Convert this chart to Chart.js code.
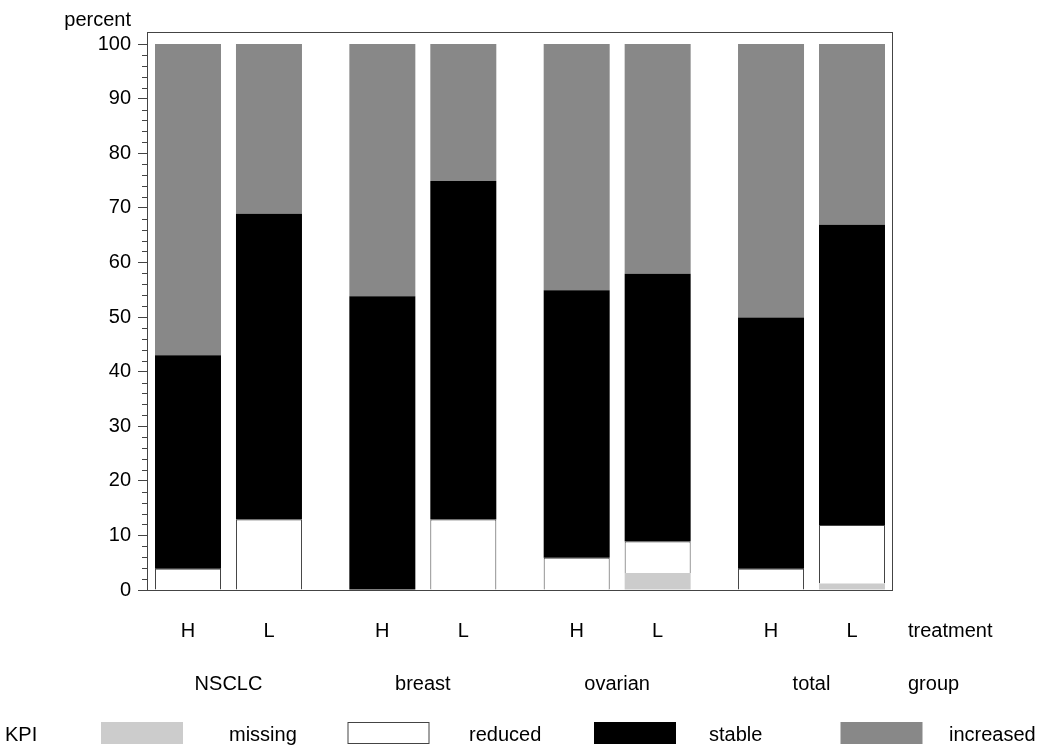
<!DOCTYPE html>
<html><head><meta charset="utf-8">
<script src="https://cdn.jsdelivr.net/npm/chart.js@4/dist/chart.umd.min.js"></script>
<style>html,body{margin:0;padding:0;background:#fff}#wrap{width:1039px;height:747px}</style>
</head><body><div id="wrap"><canvas id="c" width="1039" height="747"></canvas></div>
<script>
// ---- data ----
const groups = ['NSCLC', 'breast', 'ovarian', 'total'];
const treatments = ['H', 'L'];
const kpis = ['missing', 'reduced', 'stable', 'increased'];
// bar order: NSCLC H, NSCLC L, breast H, breast L, ovarian H, ovarian L, total H, total L
const missing   = [0,    0,    0,    0,    0,    3.1,  0,    1.2];
const reduced   = [3.9,  12.9, 0,    12.9, 5.9,  5.8,  3.9,  10.7];
const stable    = [39.1, 56,   53.8, 62,   49,   49,   46,   55];
const increased = [57,   31.1, 46.2, 25.1, 45.1, 42.1, 50.1, 33.1];
const yTickValues = [0, 10, 20, 30, 40, 50, 60, 70, 80, 90, 100];
const yTitle = 'percent';
const xTitle = 'treatment';
const groupTitle = 'group';
const legendTitle = 'KPI';

// ---- derived ----
const kpiValues = [missing, reduced, stable, increased];
const kpiColors = ['#cccccc', '#ffffff', '#000000', '#888888'];
const kpiBorders = [0, 1, 0, 0];
const GROUP_STEP = 2.4;
const barPos = [], barTreat = [];
groups.forEach((g, gi) => treatments.forEach((t, ti) => { barPos.push(gi * GROUP_STEP + ti); barTreat.push(t); }));
const groupPos = groups.map((g, gi) => gi * GROUP_STEP + 0.5);

Chart.defaults.font.family = '"Liberation Sans", Arial, sans-serif';
Chart.defaults.font.size = 20;
Chart.defaults.color = '#000';

const decor = {
  id: 'decor',
  afterDraw(chart) {
    const { ctx, chartArea: a, scales: { y } } = chart;
    ctx.save();
    ctx.strokeStyle = '#444';
    ctx.lineWidth = 1;
    ctx.strokeRect(Math.round(a.left) - 0.5, Math.round(a.top) + 0.5, Math.round(a.right - a.left) + 1, Math.round(a.bottom - a.top));
    // minor ticks
    ctx.beginPath();
    for (let v = 0; v <= 100; v += 2) {
      if (v % 10 === 0) continue;
      const py = Math.round(y.getPixelForValue(v)) + 0.5;
      ctx.moveTo(a.left - 6, py); ctx.lineTo(a.left, py);
    }
    ctx.stroke();
    // texts
    ctx.fillStyle = '#000';
    ctx.font = '20px "Liberation Sans", Arial, sans-serif';
    ctx.textBaseline = 'middle';
    ctx.textAlign = 'right';
    ctx.fillText(yTitle, 131, 20);
    ctx.textAlign = 'left';
    ctx.fillText(xTitle, a.right + 16, 631);
    ctx.fillText(groupTitle, a.right + 16, 684);
    // legend
    ctx.fillText(legendTitle, 5, 735);
    chart.data.datasets.forEach((ds, i) => {
      const bx = 101 + i * 246.5, by = 722;
      ctx.fillStyle = ds.backgroundColor;
      ctx.fillRect(bx, by, 82, 22);
      if (kpiBorders[i]) {
        ctx.strokeStyle = ds.borderColor;
        ctx.strokeRect(bx + 0.5, by + 0.5, 81, 21);
      }
      ctx.fillStyle = '#000';
      ctx.fillText(ds.label, 229 + i * 240, 735);
    });
    ctx.restore();
  }
};

new Chart(document.getElementById('c'), {
  type: 'bar',
  data: {
    datasets: kpis.map((k, i) => ({
      label: k,
      data: kpiValues[i].map((v, j) => ({ x: barPos[j], y: v })),
      backgroundColor: kpiColors[i],
      borderColor: '#444',
      borderWidth: c => (c.raw && c.raw.y > 0) ? kpiBorders[i] : 0,
      barPercentage: 0.815,
      categoryPercentage: 1
    }))
  },
  options: {
    responsive: false,
    animation: false,
    devicePixelRatio: 1,
    layout: { padding: { top: 32, right: 147, bottom: 57, left: 0 } },
    plugins: { legend: { display: false }, tooltip: { enabled: false } },
    scales: {
      x: {
        type: 'linear', min: -0.494, max: 8.694, stacked: true, weight: 1, position: 'bottom', offset: false,
        afterBuildTicks: s => { s.ticks = barPos.map(v => ({ value: v })); },
        afterFit: s => { s.height = 50; },
        grid: { display: false, drawTicks: false, offset: false }, border: { display: false },
        ticks: { autoSkip: false, maxRotation: 0, padding: 29, callback: (v, i) => barTreat[i] }
      },
      x2: {
        type: 'linear', min: -0.494, max: 8.694, weight: 2, position: 'bottom', offset: false,
        afterBuildTicks: s => { s.ticks = groupPos.map(v => ({ value: v })); },
        afterFit: s => { s.height = 50; },
        grid: { display: false, drawTicks: false, offset: false }, border: { display: false },
        ticks: { autoSkip: false, maxRotation: 0, padding: 32, callback: (v, i) => groups[i] }
      },
      y: {
        min: 0, max: 102.2, stacked: true,
        afterBuildTicks: s => { s.ticks = yTickValues.map(v => ({ value: v })); },
        afterFit: s => { s.width = 148; },
        grid: { display: true, drawOnChartArea: false, drawTicks: true, tickLength: 10, color: '#444' },
        border: { display: false },
        ticks: { padding: 7 }
      }
    }
  },
  plugins: [decor]
});
</script></body></html>
